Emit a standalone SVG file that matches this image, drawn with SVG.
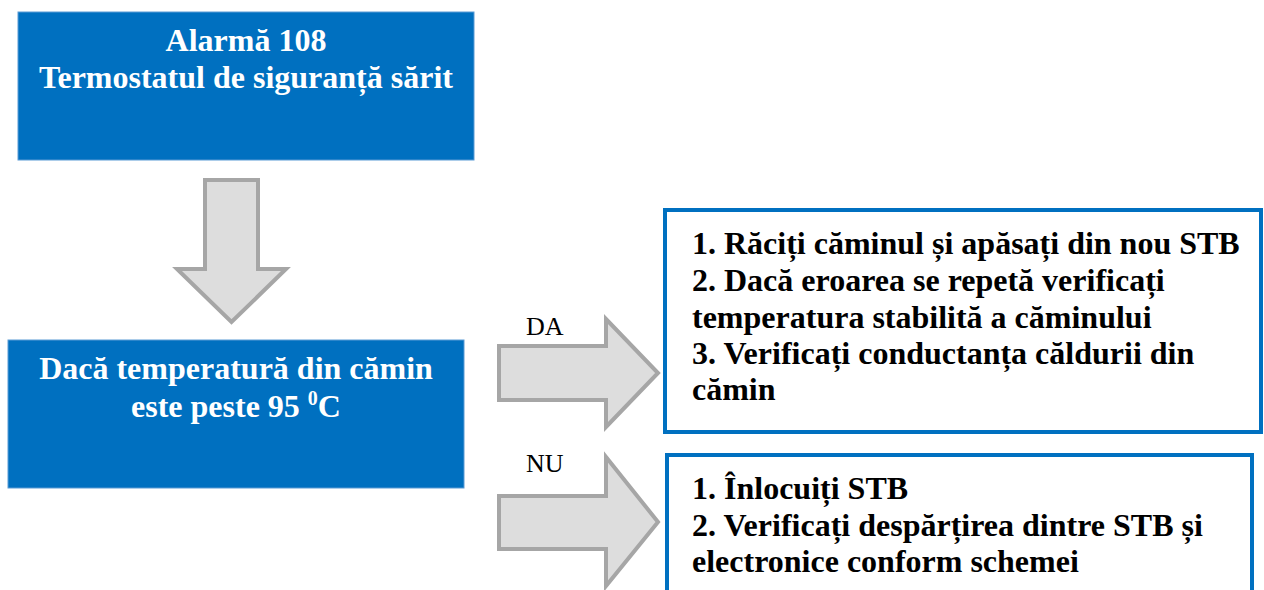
<svg xmlns="http://www.w3.org/2000/svg" width="1264" height="590" viewBox="0 0 1264 590">
<style>
.blue{fill:#0070C0;stroke:#5B9BD5;stroke-width:1}
.wt{font-family:"Liberation Serif","Times New Roman",serif;font-weight:bold;font-size:32px;fill:#fff;text-anchor:middle}
.bt{font-family:"Liberation Serif","Times New Roman",serif;font-weight:bold;font-size:32px;fill:#000}
.lbl{font-family:"Liberation Serif","Times New Roman",serif;font-size:26px;fill:#000}
.arr{fill:#DDDDDD;stroke:#A6A6A6;stroke-width:4;stroke-linejoin:miter}
.obox{fill:#fff;stroke:#0070C0;stroke-width:4}
</style>
<rect width="1264" height="590" fill="#fff"/>
<g id="alarm">
<rect class="blue" x="18" y="12" width="456" height="148"/>
<text class="wt" x="246" y="51">Alarmă 108</text>
<text class="wt" x="246" y="88">Termostatul de siguranță sărit</text>
</g>
<g id="condition">
<rect class="blue" x="8" y="340" width="456" height="148"/>
<text class="wt" x="236" y="379">Dacă temperatură din cămin</text>
<text class="wt" x="236" y="417">este peste 95 <tspan font-size="20" dy="-12">0</tspan><tspan dy="12">C</tspan></text>
</g>
<g id="yes-box">
<rect class="obox" x="665" y="210" width="596" height="222"/>
<text class="bt" x="692" y="254">1. Răciți căminul și apăsați din nou STB</text>
<text class="bt" x="692" y="291">2. Dacă eroarea se repetă verificați</text>
<text class="bt" x="692" y="328">temperatura stabilită a căminului</text>
<text class="bt" x="692" y="364">3. Verificați conductanța căldurii din</text>
<text class="bt" x="692" y="400">cămin</text>
</g>
<g id="no-box">
<rect class="obox" x="667" y="455" width="585" height="150"/>
<text class="bt" x="692" y="499">1. Înlocuiți STB</text>
<text class="bt" x="692" y="536">2. Verificați despărțirea dintre STB și</text>
<text class="bt" x="692" y="572">electronice conform schemei</text>
</g>
<g id="connectors">
<path class="arr" d="M205,180 H258 V269 H286 L231.5,322 L177,269 H205 Z"/>
<path class="arr" d="M499,346 H606 V319 L658,373 L606,427 V400 H499 Z"/>
<path class="arr" d="M499,496 H606 V457 L658,522 L606,586 V549 H499 Z"/>
<text class="lbl" x="526" y="335">DA</text>
<text class="lbl" x="526" y="472">NU</text>
</g>
</svg>
